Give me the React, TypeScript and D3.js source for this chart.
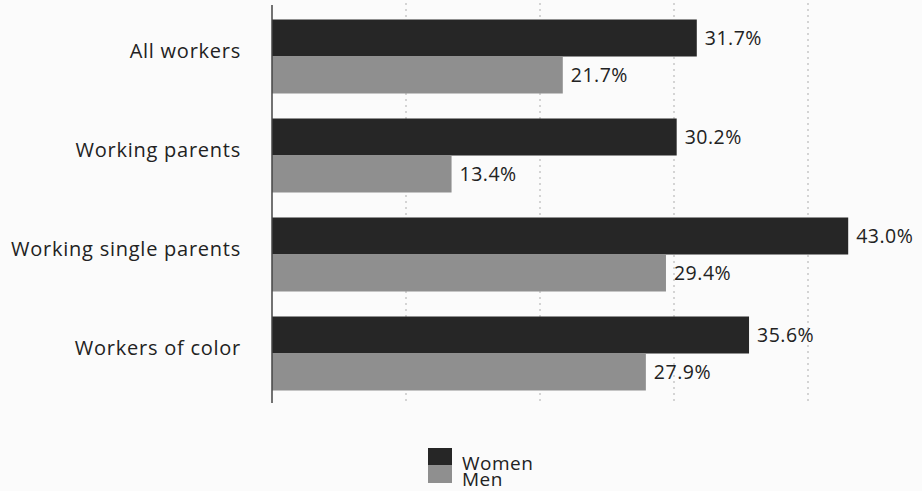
import React, { useEffect, useRef } from "react";
import * as d3 from "d3";

const categories = ["All workers", "Working parents", "Working single parents", "Workers of color"];
const seriesNames = ["Women", "Men"];
const women = [31.7, 30.2, 43.0, 35.6];
const men = [21.7, 13.4, 29.4, 27.9];
const gridTicks = [10, 20, 30, 40];
const colors = ["#262626", "#8f8f8f"];

const W = 922;
const H = 491;
const FONT = "'Open Sans', Lato, sans-serif";

export default function App() {
  const ref = useRef<SVGSVGElement | null>(null);

  useEffect(() => {
    const svg = d3.select(ref.current);
    svg.selectAll("*").remove();

    const x = d3.scaleLinear().domain([0, 10]).range([272, 406]);
    const y = d3.scaleBand<string>().domain(categories).range([7, 403]).paddingInner(0.2525).paddingOuter(0.12625);
    const sub = d3.scaleBand<string>().domain(seriesNames).range([0, y.bandwidth()]).padding(0);

    svg.append("rect").attr("width", W).attr("height", H).attr("fill", "#fbfbfb");

    // gridlines
    svg.append("g")
      .selectAll("line")
      .data(gridTicks)
      .join("line")
      .attr("x1", (d) => x(d))
      .attr("x2", (d) => x(d))
      .attr("y1", 3)
      .attr("y2", 403)
      .attr("stroke", "#c8c8c8")
      .attr("stroke-width", 1.5)
      .attr("stroke-dasharray", "2,4");

    const rows = categories.map((c, i) => ({ c, vals: [women[i], men[i]] }));

    const g = svg.append("g")
      .selectAll("g")
      .data(rows)
      .join("g")
      .attr("transform", (d) => `translate(0,${y(d.c)})`);

    g.selectAll("rect")
      .data((d) => d.vals.map((v, j) => ({ v, s: seriesNames[j], j })))
      .join("rect")
      .attr("x", x(0))
      .attr("y", (d) => sub(d.s)!)
      .attr("width", (d) => x(d.v) - x(0))
      .attr("height", sub.bandwidth())
      .attr("fill", (d) => colors[d.j]);

    g.selectAll("text.val")
      .data((d) => d.vals.map((v, j) => ({ v, s: seriesNames[j] })))
      .join("text")
      .attr("class", "val")
      .attr("x", (d) => x(d.v) + 8)
      .attr("y", (d) => sub(d.s)! + sub.bandwidth() / 2)
      .attr("dy", "0.35em")
      .attr("font-family", FONT)
      .attr("font-size", 19.5)
      .attr("letter-spacing", 0.5)
      .attr("fill", "#222")
      .text((d) => d.v.toFixed(1) + "%");

    // category labels
    svg.append("g")
      .selectAll("text")
      .data(categories)
      .join("text")
      .attr("x", 241)
      .attr("y", (d) => y(d)! + y.bandwidth() / 2 - 6)
      .attr("dy", "0.35em")
      .attr("text-anchor", "end")
      .attr("font-family", FONT)
      .attr("font-size", 20)
      .attr("letter-spacing", 0.75)
      .attr("fill", "#222")
      .text((d) => d);

    // axis line
    svg.append("line")
      .attr("x1", x(0))
      .attr("x2", x(0))
      .attr("y1", 5)
      .attr("y2", 403)
      .attr("stroke", "#444")
      .attr("stroke-width", 1.5);

    // legend
    const lg = svg.append("g").attr("transform", "translate(428,448)");
    seriesNames.forEach((s, i) => {
      lg.append("rect").attr("x", 0).attr("y", i * 17.5).attr("width", 24).attr("height", 17.5).attr("fill", colors[i]);
      lg.append("text")
        .attr("x", 34)
        .attr("y", i * 16 + 22)
        .attr("font-family", FONT)
        .attr("font-size", 19)
        .attr("letter-spacing", 0.5)
        .attr("fill", "#222")
        .text(s);
    });
  }, []);

  return (
    <svg ref={ref} width={W} height={H} style={{ position: "absolute", left: 0, top: 0, display: "block" }} />
  );
}
